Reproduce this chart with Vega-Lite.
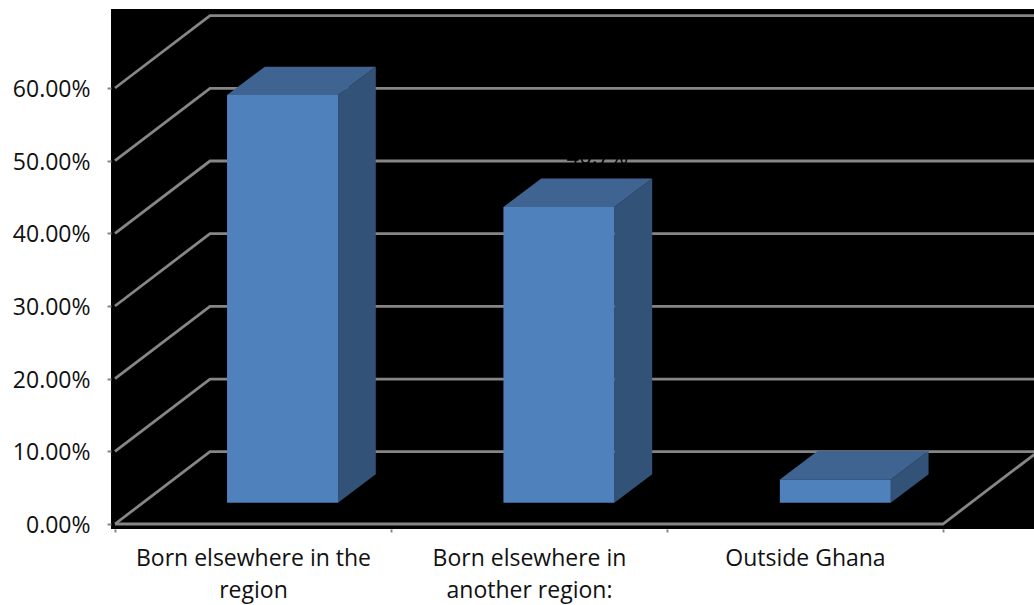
{
  "$schema": "https://vega.github.io/schema/vega-lite/v6.json",
  "width": 923,
  "height": 520,
  "padding": {"left": 111, "top": 9, "right": 0, "bottom": 76},
  "autosize": {"type": "none"},
  "background": "white",
  "view": {"fill": "black", "stroke": null},
  "datasets": {
    "origins": [
      {"category": "Born elsewhere in the region", "slot": 0, "value": 56.1},
      {"category": "Born elsewhere in another region:", "slot": 1, "value": 40.7},
      {"category": "Outside Ghana", "slot": 2, "value": 3.2}
    ],
    "levels": [
      {"level": 0}, {"level": 10}, {"level": 20}, {"level": 30},
      {"level": 40}, {"level": 50}, {"level": 60}
    ]
  },
  "encoding": {
    "x": {
      "type": "quantitative",
      "scale": {"domain": [-0.0145, 3.33], "nice": false, "zero": false}
    },
    "y": {
      "type": "quantitative",
      "scale": {"domain": [-0.688, 70.87], "nice": false, "zero": false}
    }
  },
  "layer": [
    {
      "description": "Wall and floor gridlines: each level runs up the side wall, then along the back wall",
      "data": {"name": "levels"},
      "transform": [
        {"calculate": "[0, 1, 2]", "as": "corner"},
        {"flatten": ["corner"]},
        {"calculate": "[0, 0.3442, 3.34][datum.corner]", "as": "px"},
        {"calculate": "datum.level + (datum.corner > 0 ? 9.95 : 0)", "as": "py"}
      ],
      "mark": {"type": "line", "color": "#868686", "strokeWidth": 2.8, "clip": true},
      "encoding": {
        "x": {
          "field": "px",
          "type": "quantitative",
          "axis": {
            "values": [0, 0.5, 1, 1.5, 2, 2.5, 3],
            "title": null,
            "grid": false,
            "domain": false,
            "tickColor": "#868686",
            "tickWidth": 2,
            "tickSize": 3,
            "tickOpacity": {"condition": {"test": "datum.value % 1 === 0", "value": 1}, "value": 0},
            "labelExpr": "datum.value === 0.5 ? ['Born elsewhere in the', 'region'] : datum.value === 1.5 ? ['Born elsewhere in', 'another region:'] : datum.value === 2.5 ? 'Outside Ghana' : ''",
            "labelFont": "Open Sans",
            "labelFontSize": 23,
            "labelColor": "#111111",
            "labelPadding": 15,
            "labelLineHeight": 32,
            "labelBaseline": "top",
            "labelAlign": "center",
            "labelOverlap": false,
            "labelFlush": false,
            "labelLimit": 400
          }
        },
        "y": {
          "field": "py",
          "type": "quantitative",
          "axis": {
            "values": [0, 10, 20, 30, 40, 50, 60],
            "title": null,
            "grid": false,
            "domain": false,
            "labelExpr": "format(datum.value, '.2f') + '%'",
            "tickColor": "#868686",
            "tickWidth": 2,
            "tickSize": 4,
            "labelFont": "Open Sans",
            "labelFontSize": 23,
            "labelColor": "#111111",
            "labelPadding": 17,
            "labelOffset": 1.5,
            "labelLimit": 200
          }
        },
        "detail": {"field": "level"}
      }
    },
    {
      "description": "Side wall upright",
      "mark": {"type": "rule", "color": "#868686", "strokeWidth": 2.8},
      "encoding": {"x": {"datum": 0}, "y": {"datum": 0}, "y2": {"datum": 60}}
    },
    {
      "description": "Floor: front edge and the right-hand edge running to the back",
      "data": {"name": "levels"},
      "transform": [
        {"filter": "datum.level === 0"},
        {"calculate": "[0, 1, 2]", "as": "corner"},
        {"flatten": ["corner"]},
        {"calculate": "[0, 3, 3.3442][datum.corner]", "as": "px"},
        {"calculate": "datum.corner === 2 ? 9.95 : 0", "as": "py"}
      ],
      "mark": {"type": "line", "color": "#868686", "strokeWidth": 2.8, "clip": true},
      "encoding": {
        "x": {"field": "px", "type": "quantitative"},
        "y": {"field": "py", "type": "quantitative"}
      }
    },
    {
      "description": "Data labels, black and lost against the view colour except where they cross a gridline",
      "data": {"name": "origins"},
      "transform": [
        {"calculate": "datum.slot * 1.0015 + 0.7466", "as": "labelAt"},
        {"calculate": "datum.value + 8.9", "as": "labelY"},
        {"calculate": "format(datum.value, '.1f') + '%'", "as": "labelText"}
      ],
      "mark": {"type": "text", "color": "black", "font": "Open Sans", "fontSize": 22, "baseline": "alphabetic", "align": "center"},
      "encoding": {
        "x": {"field": "labelAt", "type": "quantitative"},
        "y": {"field": "labelY", "type": "quantitative"},
        "text": {"field": "labelText"}
      }
    },
    {
      "description": "Right side of each column",
      "data": {"name": "origins"},
      "transform": [
        {"calculate": "[0, 1]", "as": "corner"},
        {"flatten": ["corner"]},
        {"calculate": "datum.slot * 1.0015 + 0.808 + datum.corner * 0.137", "as": "px"},
        {"calculate": "2.92 + datum.corner * 3.92", "as": "low"},
        {"calculate": "datum.low + datum.value", "as": "high"}
      ],
      "mark": {"type": "area", "color": "#335278", "orient": "vertical"},
      "encoding": {
        "x": {"field": "px", "type": "quantitative"},
        "y": {"field": "low", "type": "quantitative"},
        "y2": {"field": "high"},
        "detail": {"field": "category"}
      }
    },
    {
      "description": "Top of each column",
      "data": {"name": "origins"},
      "transform": [
        {"calculate": "[0, 1, 2, 3]", "as": "corner"},
        {"flatten": ["corner"]},
        {"calculate": "datum.slot * 1.0015 + 0.406 + [0, 0.137, 0.402, 0.539][datum.corner]", "as": "px"},
        {"calculate": "2.92 + datum.value", "as": "topEdge"},
        {"calculate": "datum.topEdge + (datum.corner === 3 ? 3.92 : 0)", "as": "low"},
        {"calculate": "datum.topEdge + (datum.corner === 0 ? 0 : 3.92)", "as": "high"}
      ],
      "mark": {"type": "area", "color": "#3F6491", "orient": "vertical"},
      "encoding": {
        "x": {"field": "px", "type": "quantitative"},
        "y": {"field": "low", "type": "quantitative"},
        "y2": {"field": "high"},
        "detail": {"field": "category"}
      }
    },
    {
      "description": "Front of each column, lifted off the floor edge by the column's depth",
      "data": {"name": "origins"},
      "transform": [
        {"calculate": "datum.slot * 1.0015 + 0.406", "as": "left"},
        {"calculate": "datum.slot * 1.0015 + 0.808", "as": "right"},
        {"calculate": "2.92", "as": "base"},
        {"calculate": "datum.base + datum.value", "as": "top"}
      ],
      "mark": {"type": "rect", "color": "#4F81BD"},
      "encoding": {
        "x": {"field": "left", "type": "quantitative"},
        "x2": {"field": "right"},
        "y": {"field": "base", "type": "quantitative"},
        "y2": {"field": "top"}
      }
    }
  ]
}
